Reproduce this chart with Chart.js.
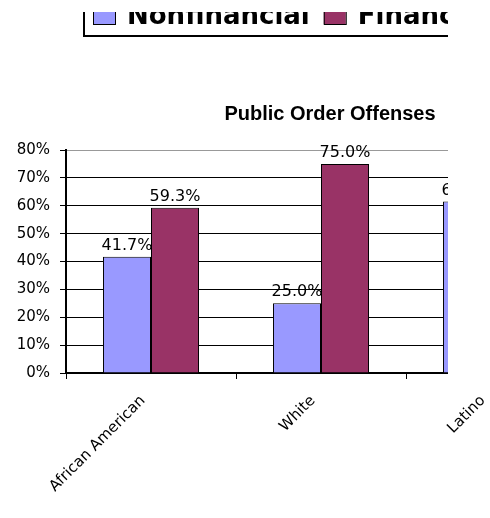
<!DOCTYPE html>
<html>
<head>
<meta charset="utf-8">
<script src="https://cdn.jsdelivr.net/npm/chart.js@4.4.1/dist/chart.umd.min.js"></script>
<style>
  html, body { margin: 0; padding: 0; background: #fff; overflow: hidden; }
  #wrap { position: relative; width: 490px; height: 518px; overflow: hidden; }
  canvas { position: absolute; left: 0; top: 0; }
</style>
</head>
<body>
<div id="wrap"><canvas id="chart" width="660" height="518"></canvas></div>
<script>
// data (the Latino financial bar is cut off, so it is a guess)
const categories = ["African American", "White", "Latino"];
const seriesNames = ["Nonfinancial", "Financial"];
const nonfinancial = [41.7, 25.0, 61.5];
const financial = [59.3, 75.0, 38.5];
const yMax = 80;
const yStep = 10;

// the original picture is cropped on the right, past this x
const CLIP_X = 448;

const excelLook = {
  id: "excelLook",
  afterDatasetsDraw(chart) {
    const ctx = chart.ctx;
    ctx.save();

    // value labels above the bars
    ctx.font = "16px 'DejaVu Sans'";
    ctx.fillStyle = "#000";
    ctx.textAlign = "center";
    ctx.textBaseline = "alphabetic";
    chart.data.datasets.forEach((ds, i) => {
      chart.getDatasetMeta(i).data.forEach((bar, j) => {
        ctx.fillText(ds.data[j].toFixed(1) + "%", bar.x, bar.y - 7);
      });
    });

    // boxed legend at the top
    ctx.font = "bold 26px 'DejaVu Sans'";
    ctx.textAlign = "left";
    let x = 93;
    chart.data.datasets.forEach((ds) => {
      ctx.fillStyle = ds.backgroundColor;
      ctx.fillRect(x, 4, 22, 20);
      ctx.strokeStyle = "#000";
      ctx.lineWidth = 1;
      ctx.strokeRect(x + 0.5, 4.5, 22, 20);
      ctx.fillStyle = "#000";
      ctx.fillText(ds.label, x + 34, 24);
      x += 34 + ctx.measureText(ds.label).width + 14;
    });
    ctx.lineWidth = 2;
    ctx.strokeStyle = "#000";
    ctx.strokeRect(84, -10, 600, 46);

    // crop like the source image
    ctx.fillStyle = "#fff";
    ctx.fillRect(CLIP_X, 0, chart.width - CLIP_X, chart.chartArea.bottom + 8);
    ctx.fillRect(0, 0, chart.width, 12);
    ctx.restore();
  }
};

const tickFont = { family: "'DejaVu Sans'", size: 15 };

new Chart(document.getElementById("chart"), {
  type: "bar",
  data: {
    labels: categories,
    datasets: [
      {
        label: seriesNames[0],
        data: nonfinancial,
        backgroundColor: "#9999FF",
        borderColor: "#000",
        borderWidth: 1,
        categoryPercentage: 0.565,
        barPercentage: 1.0
      },
      {
        label: seriesNames[1],
        data: financial,
        backgroundColor: "#993366",
        borderColor: "#000",
        borderWidth: 1,
        categoryPercentage: 0.565,
        barPercentage: 1.0
      }
    ]
  },
  options: {
    responsive: false,
    animation: false,
    layout: { padding: { top: 90 } },
    plugins: {
      legend: { display: false },
      tooltip: { enabled: false },
      title: {
        display: true,
        text: "Public Order Offenses",
        color: "#000",
        font: { family: "'Liberation Sans', Arial", size: 20, weight: "bold", lineHeight: 1.2 },
        padding: { top: 12, bottom: 24 }
      }
    },
    scales: {
      x: {
        offset: true,
        grid: { offset: true, drawOnChartArea: false, color: "#000", tickColor: "#000", tickLength: 6 },
        border: { color: "#000", width: 2 },
        ticks: {
          z: 1,
          autoSkip: false,
          maxRotation: 45,
          minRotation: 45,
          padding: 13,
          labelOffset: -8,
          color: "#000",
          font: tickFont
        },
        afterFit: (s) => { s.height = 145; }
      },
      y: {
        min: 0,
        max: yMax,
        ticks: {
          stepSize: yStep,
          callback: (v) => v + "%",
          padding: 10,
          color: "#000",
          font: tickFont
        },
        grid: {
          color: (c) => (c.tick && c.tick.value === yMax ? "#999" : "#000"),
          tickColor: "#000",
          tickLength: 6
        },
        border: { color: "#000", width: 2 },
        afterFit: (s) => { s.width = 66; }
      },
      pad: {
        type: "linear",
        axis: "y",
        position: "right",
        grid: { display: false },
        border: { display: false },
        ticks: { display: false },
        afterFit: (s) => { s.width = 84; }
      }
    }
  },
  plugins: [excelLook]
});
</script>
</body>
</html>
